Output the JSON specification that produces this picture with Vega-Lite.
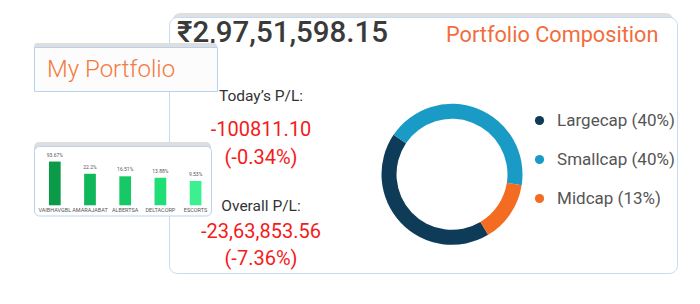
{
  "$schema": "https://vega.github.io/schema/vega-lite/v6.json",
  "background": "white",
  "padding": {"left": 33, "top": 13, "right": 0, "bottom": 0},
  "bounds": "flush",
  "spacing": 0,
  "resolve": {"scale": {"color": "independent"}, "legend": {"color": "independent"}},
  "config": {"view": {"stroke": null}, "font": "Roboto", "title": {"font": "Roboto", "fontWeight": "normal"}},
  "hconcat": [
    {
      "bounds": "flush",
      "spacing": 0,
      "hconcat": [
        {"width": 135, "height": 20, "data": {"values": [{}]}, "mark": {"type": "text", "text": "", "fontSize": 1}},
        {
          "bounds": "flush",
          "spacing": 0,
          "vconcat": [
            {
              "bounds": "flush",
              "spacing": 0,
              "hconcat": [
                {"width": 4, "height": 20, "data": {"values": [{}]}, "mark": {"type": "text", "text": "", "fontSize": 1}},
                {"width": 500, "height": 14, "view": {"fill": "#e0e0e0", "cornerRadius": 8}, "data": {"values": [{}]}, "mark": {"type": "text", "text": "", "fontSize": 1}}
              ]
            },
            {"width": 508, "height": 4, "data": {"values": [{}]}, "mark": {"type": "text", "text": "", "fontSize": 1}},
            {
              "width": 508, "height": 256,
              "view": {"fill": "white", "stroke": "#c4dbf4", "strokeWidth": 1, "cornerRadius": 8},
              "data": {"values": [{}]},
              "mark": {"type": "text", "text": "", "fontSize": 1}
            }
          ]
        }
      ]
    },
    {
      "bounds": "flush",
      "spacing": 0,
      "resolve": {"scale": {"color": "independent"}, "legend": {"color": "independent"}},
      "hconcat": [
        {"width": 143, "height": 20, "data": {"values": [{}]}, "mark": {"type": "text", "text": "", "fontSize": 1}},
        {
          "bounds": "flush",
          "spacing": 46.5,
          "vconcat": [
            {
              "width": 168, "height": 55.6,
              "title": {"text": "₹2,97,51,598.15", "anchor": "start", "frame": "group", "offset": -35.5, "fontSize": 29.5, "fontWeight": 500, "color": "#3a3a3a"},
              "data": {"values": [{}]},
              "mark": {"type": "text", "text": "", "fontSize": 1}
            },
            {
              "width": 168, "height": 56.8,
              "title": {"text": "Today’s P/L:", "anchor": "middle", "offset": 11, "fontSize": 15.5, "color": "#333333"},
              "data": {"values": [{"line": "amount", "text": "-100811.10"}, {"line": "percent", "text": "(-0.34%)"}]},
              "mark": {"type": "text", "fontSize": 20, "color": "#f41b1b", "baseline": "middle"},
              "encoding": {
                "y": {"field": "line", "type": "ordinal", "sort": null, "scale": {"type": "point", "padding": 0.5}, "axis": null},
                "text": {"field": "text"}
              }
            },
            {
              "width": 168, "height": 53.2,
              "title": {"text": "Overall P/L:", "anchor": "middle", "offset": 5, "fontSize": 15.5, "color": "#333333"},
              "data": {"values": [{"line": "amount", "text": "-23,63,853.56"}, {"line": "percent", "text": "(-7.36%)"}]},
              "mark": {"type": "text", "fontSize": 20, "color": "#f41b1b", "baseline": "middle"},
              "encoding": {
                "y": {"field": "line", "type": "ordinal", "sort": null, "scale": {"type": "point", "padding": 0.5}, "axis": null},
                "text": {"field": "text"}
              }
            }
          ]
        },
        {
          "bounds": "flush",
          "spacing": 0,
          "resolve": {"scale": {"color": "independent"}, "legend": {"color": "independent"}},
          "vconcat": [
            {
              "width": 481.4, "height": 98.5,
              "title": {"text": "Portfolio Composition", "anchor": "end", "frame": "group", "offset": -34, "fontSize": 21.7, "color": "#f26d3d"},
              "data": {"values": [{}]},
              "mark": {"type": "text", "text": "", "fontSize": 1}
            },
            {
              "bounds": "flush",
              "spacing": 0,
              "resolve": {"scale": {"color": "independent"}, "legend": {"color": "independent"}},
              "hconcat": [
                {"width": 199.2, "height": 20, "data": {"values": [{}]}, "mark": {"type": "text", "text": "", "fontSize": 1}},
                {
                  "width": 150, "height": 124.6,
                  "data": {"values": [
                    {"cap": "Largecap (40%)", "share": 40},
                    {"cap": "Smallcap (40%)", "share": 40},
                    {"cap": "Midcap (13%)", "share": 13}
                  ]},
                  "mark": {"type": "arc", "innerRadius": 55.5, "outerRadius": 70.5},
                  "encoding": {
                    "theta": {"field": "share", "type": "quantitative", "stack": true, "scale": {"range": [-0.977, 5.306]}},
                    "order": {"field": "cap", "sort": "descending"},
                    "color": {
                      "field": "cap", "type": "nominal",
                      "scale": {"domain": ["Largecap (40%)", "Smallcap (40%)", "Midcap (13%)"], "range": ["#0e3b57", "#1a9bc5", "#f36c21"]},
                      "legend": {"title": null, "orient": "right", "offset": 4.2, "padding": 0, "symbolType": "circle", "symbolSize": 85, "symbolStrokeWidth": 0, "labelFontSize": 17, "labelColor": "#555555", "labelFont": "Roboto", "rowPadding": 21, "labelOffset": 9.1}
                    }
                  }
                }
              ]
            }
          ]
        }
      ]
    },
    {
      "bounds": "flush",
      "spacing": 0,
      "vconcat": [
        {"width": 183, "height": 30, "data": {"values": [{}]}, "mark": {"type": "text", "text": "", "fontSize": 1}},
        {
          "bounds": "flush",
          "spacing": 0,
          "hconcat": [
            {"width": 183, "height": 12, "view": {"fill": "#dedede", "cornerRadius": 3}, "data": {"values": [{}]}, "mark": {"type": "text", "text": "", "fontSize": 1}}
          ]
        },
        {"width": 183, "height": 4, "data": {"values": [{}]}, "mark": {"type": "text", "text": "", "fontSize": 1}},
        {
          "width": 183, "height": 44,
          "view": {"fill": "#fcfcfc", "stroke": "#b7d2f1", "strokeWidth": 1},
          "title": {"text": "My Portfolio", "anchor": "start", "frame": "group", "dx": 13, "offset": -35, "fontSize": 24, "fontWeight": 300, "color": "#f47a3e"},
          "data": {"values": [{}]},
          "mark": {"type": "text", "text": "", "fontSize": 1}
        },
        {"width": 177, "height": 51, "data": {"values": [{}]}, "mark": {"type": "text", "text": "", "fontSize": 1}},
        {
          "bounds": "flush",
          "spacing": 0,
          "hconcat": [
            {"width": 177, "height": 12, "view": {"fill": "#dedede", "cornerRadius": 5}, "data": {"values": [{}]}, "mark": {"type": "text", "text": "", "fontSize": 1}}
          ]
        },
        {"width": 177, "height": 4, "data": {"values": [{}]}, "mark": {"type": "text", "text": "", "fontSize": 1}},
        {
          "width": 177, "height": 69.5,
          "view": {"fill": "white", "stroke": "#b7d2f1", "strokeWidth": 1, "cornerRadius": 5},
          "data": {"values": [
            {"stock": "VAIBHAVGBL", "pct": 93.67, "label": "93.67%"},
            {"stock": "AMARAJABAT", "pct": 22.2, "label": "22.2%"},
            {"stock": "ALBERTSA", "pct": 16.51, "label": "16.51%"},
            {"stock": "DELTACORP", "pct": 13.88, "label": "13.88%"},
            {"stock": "ESCORTS", "pct": 9.53, "label": "9.53%"}
          ]},
          "encoding": {
            "x": {"field": "stock", "type": "nominal", "sort": null,
              "scale": {"paddingInner": 0.667, "paddingOuter": 0.348, "align": 0.61},
              "axis": {"title": null, "orient": "bottom", "offset": -10, "domain": false, "ticks": false, "labelPadding": 2, "labelFontSize": 5.5, "labelColor": "#555555", "labelAngle": 0, "labelFont": "Roboto"}},
            "y": {"field": "pct", "type": "quantitative", "scale": {"type": "log", "domain": [0.164, 583.8], "nice": false, "zero": false}, "axis": null}
          },
          "layer": [
            {
              "mark": {"type": "bar"},
              "encoding": {
                "y2": {"datum": 0.545},
                "color": {"field": "stock", "type": "nominal",
                  "scale": {"domain": ["VAIBHAVGBL", "AMARAJABAT", "ALBERTSA", "DELTACORP", "ESCORTS"], "range": ["#0b9b48", "#10b65a", "#17c966", "#1fde76", "#3af08f"]},
                  "legend": null}
              }
            },
            {
              "mark": {"type": "text", "fontSize": 5, "color": "#555555", "dy": -7},
              "encoding": {"text": {"field": "label"}}
            }
          ]
        }
      ]
    }
  ]
}
